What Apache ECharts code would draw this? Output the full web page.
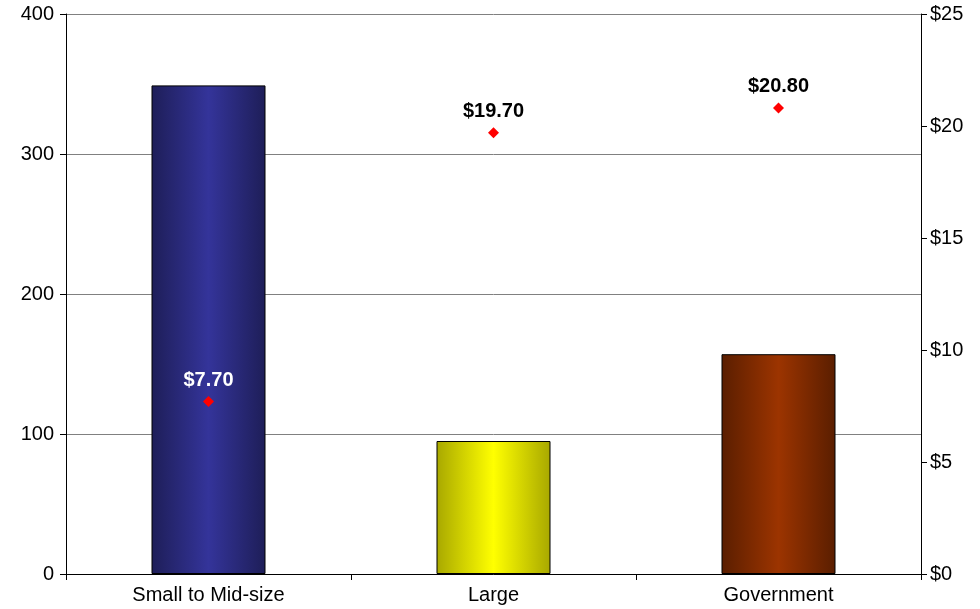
<!DOCTYPE html>
<html>
<head>
<meta charset="utf-8">
<script src="https://cdn.jsdelivr.net/npm/echarts@6/dist/echarts.min.js"></script>
<style>
  html, body { margin: 0; padding: 0; background: #fff; }
  #chart { width: 980px; height: 609px; }
</style>
</head>
<body>
<div id="chart"></div>
<script>
// Segments shown along the category axis
var categories = ['Small to Mid-size', 'Large', 'Government'];
// Bar heights, read on the left axis
var counts = [349, 95, 157];
// Price points, read on the right ($) axis
var prices = [7.70, 19.70, 20.80];
// Left and right axis tick values
var leftTicks = [0, 100, 200, 300, 400];
var rightTicks = [0, 5, 10, 15, 20, 25];

// Per-bar shading: dark edges, bright centre
var barShades = [
  ['#1e1e58', '#34349a'],
  ['#a8a800', '#ffff00'],
  ['#5a1e00', '#9c3400']
];
var labelColors = ['#ffffff', '#000000', '#000000'];

function shade(pair) {
  return new echarts.graphic.LinearGradient(0, 0, 1, 0, [
    { offset: 0, color: pair[0] },
    { offset: 0.5, color: pair[1] },
    { offset: 1, color: pair[0] }
  ]);
}

var chart = echarts.init(document.getElementById('chart'), null, { renderer: 'canvas' });

var textFont = { fontFamily: 'Liberation Sans, Arial, sans-serif', fontSize: 20, color: '#000' };

chart.setOption({
  animation: false,
  backgroundColor: '#ffffff',
  grid: { left: 66, right: 59, top: 14, bottom: 35, containLabel: false },
  xAxis: {
    type: 'category',
    data: categories,
    boundaryGap: true,
    axisLine: { show: true, lineStyle: { color: '#000', width: 1 } },
    axisTick: { show: true, alignWithLabel: false, length: 6, lineStyle: { color: '#000' } },
    axisLabel: Object.assign({ margin: 11 }, textFont),
    splitLine: { show: false }
  },
  yAxis: [
    {
      type: 'value',
      min: leftTicks[0],
      max: leftTicks[leftTicks.length - 1],
      interval: leftTicks[1] - leftTicks[0],
      axisLine: { show: true, lineStyle: { color: '#000', width: 1 } },
      axisTick: { show: true, length: 6, lineStyle: { color: '#000' } },
      axisLabel: Object.assign({ margin: 12 }, textFont),
      splitLine: { show: true, lineStyle: { color: '#808080', width: 1 } }
    },
    {
      type: 'value',
      position: 'right',
      min: rightTicks[0],
      max: rightTicks[rightTicks.length - 1],
      interval: rightTicks[1] - rightTicks[0],
      axisLine: { show: true, lineStyle: { color: '#000', width: 1 } },
      axisTick: { show: true, length: 6, lineStyle: { color: '#000' } },
      axisLabel: Object.assign({ margin: 9, formatter: function (v) { return '$' + v; } }, textFont),
      splitLine: { show: false }
    }
  ],
  series: [
    {
      type: 'bar',
      yAxisIndex: 0,
      barWidth: '40%',
      data: counts.map(function (v, i) {
        return {
          value: v,
          itemStyle: { color: shade(barShades[i]), borderColor: '#000', borderWidth: 1 }
        };
      })
    },
    {
      type: 'scatter',
      yAxisIndex: 1,
      symbol: 'diamond',
      symbolSize: 11,
      z: 5,
      itemStyle: { color: '#ff0000', opacity: 1 },
      data: prices.map(function (v, i) {
        return {
          value: v,
          label: {
            show: true,
            position: 'top',
            distance: 6,
            formatter: '$' + v.toFixed(2),
            fontFamily: 'Liberation Sans, Arial, sans-serif',
            fontSize: 20,
            fontWeight: 'bold',
            color: labelColors[i],
            opacity: 1
          }
        };
      })
    }
  ]
});
</script>
</body>
</html>
